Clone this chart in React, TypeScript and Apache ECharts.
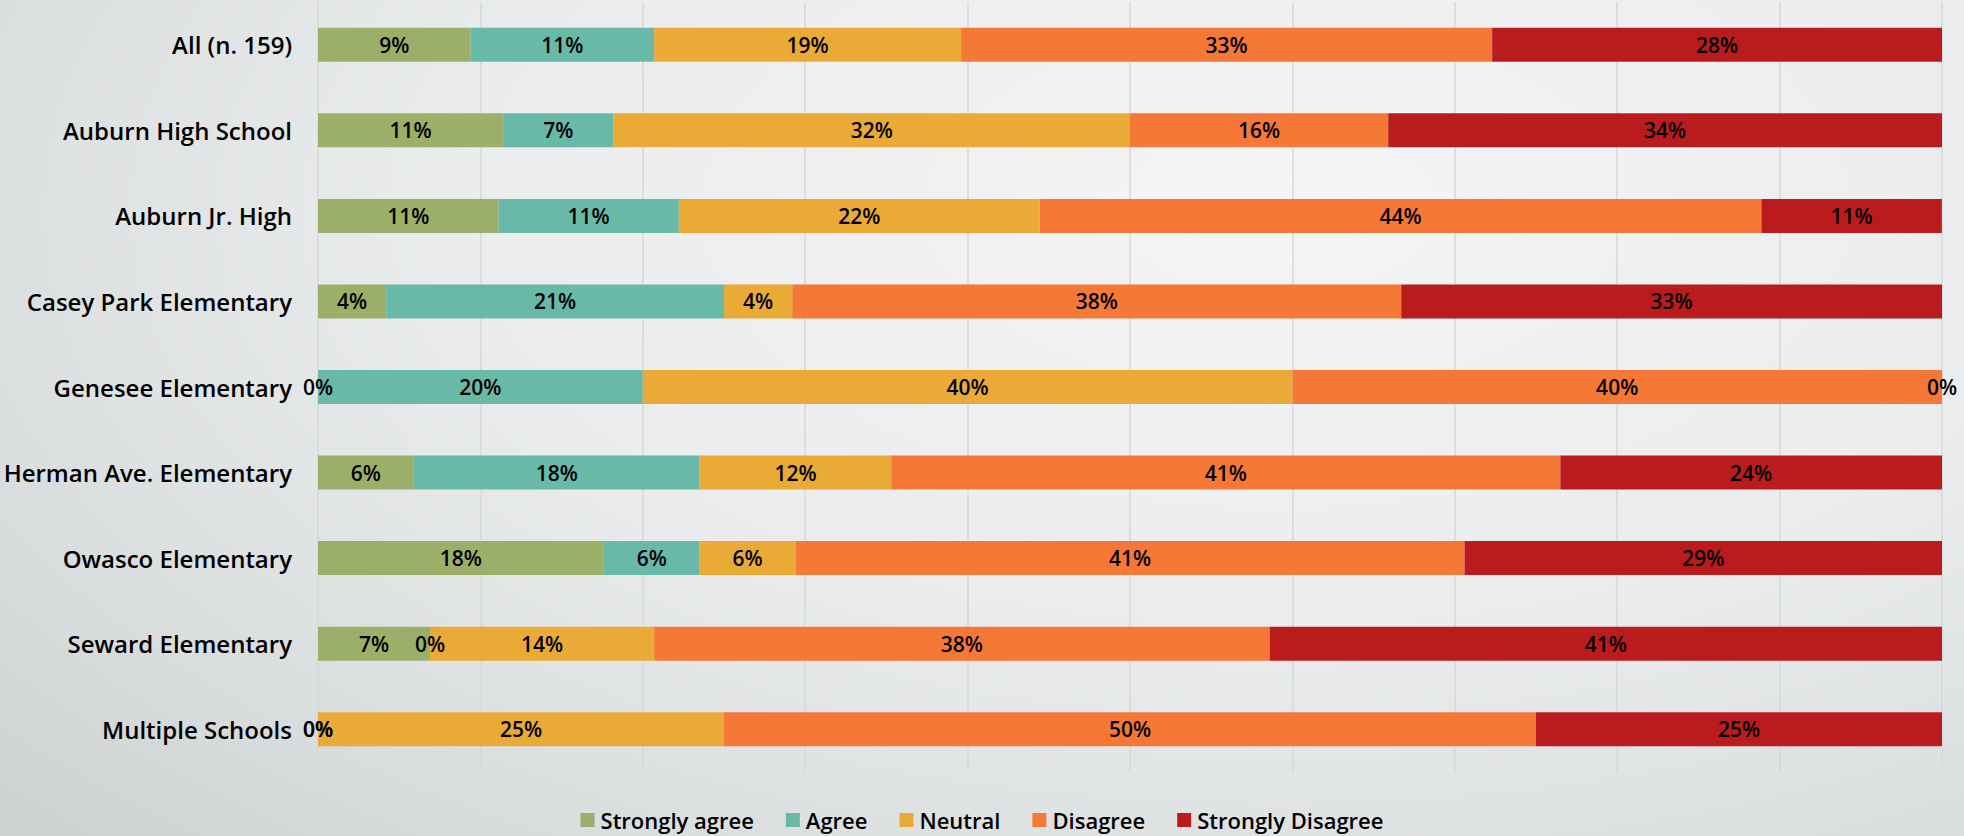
import React, { useEffect, useRef } from "react";
import * as echarts from "echarts";

const categories = [
  "All (n. 159)",
  "Auburn High School",
  "Auburn Jr. High",
  "Casey Park Elementary",
  "Genesee Elementary",
  "Herman Ave. Elementary",
  "Owasco Elementary",
  "Seward Elementary",
  "Multiple Schools",
];
const stronglyAgree = [9.4, 11.4, 11.11, 4.2, 0, 5.9, 17.6, 6.9, 0];
const agree = [11.3, 6.8, 11.11, 20.8, 20, 17.6, 5.9, 0, 0];
const neutral = [18.9, 31.8, 22.22, 4.2, 40, 11.8, 5.9, 13.8, 25];
const disagree = [32.7, 15.9, 44.44, 37.5, 40, 41.2, 41.2, 37.9, 50];
const stronglyDisagree = [27.7, 34.1, 11.11, 33.3, 0, 23.5, 29.4, 41.4, 25];

const seriesNames = ["Strongly agree", "Agree", "Neutral", "Disagree", "Strongly Disagree"];
const seriesColors = ["#9caf69", "#68b9a8", "#eaab36", "#f57836", "#ba1c1e"];
const seriesData = [stronglyAgree, agree, neutral, disagree, stronglyDisagree];

const FONT = "'Open Sans', Lato, sans-serif";

export default function App() {
  const ref = useRef<HTMLDivElement>(null);
  useEffect(() => {
    document.body.style.margin = "0";
    const chart = echarts.init(ref.current!, undefined, { renderer: "svg" });
    chart.setOption({
      animation: false,
      textStyle: { fontFamily: FONT },
      grid: { left: 318, right: 22, top: 2, bottom: 64, containLabel: false },
      legend: {
        bottom: 0,
        left: "center",
        icon: "rect",
        itemWidth: 14,
        itemHeight: 14,
        itemGap: 32,
        textStyle: { fontFamily: FONT, fontSize: 22, fontWeight: 600, color: "#000", padding: [0, 0, 0, 1] },
        data: seriesNames,
      },
      xAxis: {
        type: "value",
        min: 0,
        max: 100,
        interval: 10,
        axisLabel: { show: false },
        axisLine: { show: false },
        axisTick: { show: false },
        splitLine: { show: true, lineStyle: { color: "#d6d8d9", width: 1.5 } },
      },
      yAxis: {
        type: "category",
        inverse: true,
        data: categories,
        axisLine: { show: false },
        axisTick: { show: false },
        axisLabel: { fontFamily: FONT, fontSize: 24, fontWeight: 600, color: "#000", margin: 26 },
      },
      series: seriesNames.map((name, i) => ({
        name,
        type: "bar",
        stack: "total",
        barWidth: 34,
        data: seriesData[i],
        itemStyle: { color: seriesColors[i] },
        label: {
          show: true,
          position: "inside",
          fontFamily: FONT,
          fontSize: 21,
          fontWeight: 600,
          color: "#000",
          formatter: (p: any) => Math.round(p.value) + "%",
        },
      })),
    });
    return () => chart.dispose();
  }, []);
  return (
    <div
      style={{
        width: 1964,
        height: 836,
        background:
          "radial-gradient(ellipse 90% 110% at 65% 25%, #f4f5f5 0%, #eaeced 45%, #d9dcdd 80%, #cdd0d1 100%)",
      }}
    >
      <div ref={ref} style={{ width: 1964, height: 836 }} />
    </div>
  );
}
